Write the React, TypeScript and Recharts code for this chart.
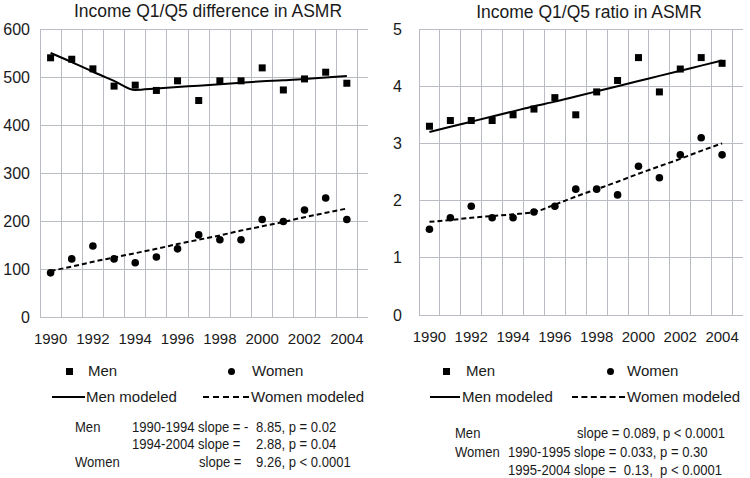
import React from "react";
import {
  ComposedChart,
  Line,
  Scatter,
  XAxis,
  YAxis,
  CartesianGrid,
  ReferenceLine,
} from "recharts";

const years = [1990, 1991, 1992, 1993, 1994, 1995, 1996, 1997, 1998, 1999, 2000, 2001, 2002, 2003, 2004];
const xTicks = [1990, 1992, 1994, 1996, 1998, 2000, 2002, 2004];

// left panel: difference in ASMR
const diffMen = [540, 537, 517, 481, 483, 472, 492, 451, 492, 492, 519, 473, 496, 510, 487];
const diffWomen = [92, 121, 148, 121, 113, 125, 142, 171, 161, 161, 203, 199, 223, 248, 203];
const diffMenModel = [550, 531, 511, 492, 473, 476, 479, 482, 485, 488, 491, 493, 496, 499, 502];
const diffWomenModel = [96, 105, 115, 124, 133, 142, 152, 161, 170, 180, 189, 198, 208, 217, 226];
const diffTicks = [0, 100, 200, 300, 400, 500, 600];

// right panel: ratio in ASMR
const ratioMen = [3.3, 3.4, 3.4, 3.4, 3.5, 3.6, 3.8, 3.5, 3.9, 4.1, 4.5, 3.9, 4.3, 4.5, 4.4];
const ratioWomen = [1.5, 1.7, 1.9, 1.7, 1.7, 1.8, 1.9, 2.2, 2.2, 2.1, 2.6, 2.4, 2.8, 3.1, 2.8];
const ratioMenModel = [3.2, 3.29, 3.38, 3.47, 3.56, 3.65, 3.73, 3.82, 3.91, 4.0, 4.09, 4.18, 4.27, 4.36, 4.45];
const ratioWomenModel = [1.63, 1.66, 1.7, 1.73, 1.76, 1.8, 1.93, 2.07, 2.2, 2.33, 2.47, 2.6, 2.73, 2.87, 3.0];
const ratioTicks = [0, 1, 2, 3, 4, 5];

const FONT = "'Liberation Sans', Arial, sans-serif";
const TXT = "#1a1a1a";
const GRID = "#b9bcc2";

// cell boundaries between the years, for the vertical grid
const bounds = [years[0] - 0.5, ...years.map((y) => y + 0.5)];

const Square = (props: any) => {
  const { cx, cy } = props;
  if (cx == null || cy == null) return null;
  return <rect x={cx - 3.5} y={cy - 3.5} width={7} height={7} fill="#000" />;
};

const Dot = (props: any) => {
  const { cx, cy } = props;
  if (cx == null || cy == null) return null;
  return <circle cx={cx} cy={cy} r={3.8} fill="#000" />;
};

type PanelProps = {
  men: number[];
  women: number[];
  menModel: number[];
  womenModel: number[];
  yTicks: number[];
  margin: { top: number; right: number; left: number; bottom: number };
  yWidth: number;
  yTickMargin: number;
  xTickMargin: number;
};

const Panel = ({ men, women, menModel, womenModel, yTicks, margin, yWidth, yTickMargin, xTickMargin }: PanelProps) => {
  const data = years.map((year, i) => ({
    year,
    men: men[i],
    women: women[i],
    menModel: menModel[i],
    womenModel: womenModel[i],
  }));

  return (
    <ComposedChart width={375} height={360} data={data} margin={margin}>
      <CartesianGrid stroke={GRID} strokeWidth={1} vertical={false} />
      {bounds.map((b) => (
        <ReferenceLine key={String(b)} x={b} stroke={GRID} strokeWidth={1} />
      ))}
      <XAxis
        dataKey="year"
        type="number"
        domain={[years[0] - 0.5, years[years.length - 1] + 0.5]}
        ticks={xTicks}
        height={30}
        tickLine={false}
        tickSize={0}
        tickMargin={xTickMargin}
        axisLine={{ stroke: GRID }}
        tick={{ fill: TXT, fontSize: 15, fontFamily: FONT }}
        allowDecimals={false}
      />
      <YAxis
        domain={[yTicks[0], yTicks[yTicks.length - 1]]}
        ticks={yTicks}
        width={yWidth}
        axisLine={false}
        tickLine={false}
        tickSize={0}
        tickMargin={yTickMargin}
        tick={{ fill: TXT, fontSize: 16, fontFamily: FONT }}
      />
      <Line type="monotone" dataKey="menModel" stroke="#000" strokeWidth={2} dot={false} isAnimationActive={false} />
      <Line
        type="monotone"
        dataKey="womenModel"
        stroke="#000"
        strokeWidth={2}
        strokeDasharray="5 3"
        dot={false}
        isAnimationActive={false}
      />
      <Scatter dataKey="men" shape={Square} isAnimationActive={false} />
      <Scatter dataKey="women" shape={Dot} isAnimationActive={false} />
    </ComposedChart>
  );
};

const abs = (left: number, top: number, size: number, extra: React.CSSProperties = {}): React.CSSProperties => ({
  position: "absolute",
  left,
  top: top - size * 0.6,
  fontSize: size,
  lineHeight: `${size * 1.2}px`,
  whiteSpace: "pre",
  color: TXT,
  fontFamily: FONT,
  ...extra,
});

// legend rows for one panel; x positions given relative to panel left
const LegendBlock = ({ ox, sq, menX, dot, womenX, lineA, lineB, menModX, dashA, dashB, womenModX }: any) => (
  <>
    <div style={{ position: "absolute", left: ox + sq - 3.5, top: 371 - 3.5, width: 7, height: 7, background: "#000" }} />
    <div style={abs(ox + menX, 371, 15)}>Men</div>
    <div
      style={{ position: "absolute", left: ox + dot - 3.5, top: 371 - 3.5, width: 7, height: 7, borderRadius: 4, background: "#000" }}
    />
    <div style={abs(ox + womenX, 371, 15)}>Women</div>
    <div style={{ position: "absolute", left: ox + lineA, top: 396, width: lineB - lineA, height: 2, background: "#000" }} />
    <div style={{ position: "absolute", left: ox + dashA, top: 396, width: dashB - dashA, height: 0, borderTop: "2px dashed #000" }} />
    <div style={abs(ox + menModX, 397, 15)}>Men modeled</div>
    <div style={abs(ox + womenModX, 397, 15)}>Women modeled</div>
  </>
);

// the notes use a narrow face in the reference; squeeze the text horizontally
const note = (left: number, top: number) =>
  abs(left, top, 15, { transform: "scaleX(0.87)", transformOrigin: "0 50%" });

export default function App() {
  return (
    <div style={{ position: "absolute", left: 0, top: 0, width: 750, height: 478, background: "#fff", fontFamily: FONT }}>
      <style>
        {".recharts-cartesian-grid line, .recharts-reference-line line, .recharts-cartesian-axis-line { shape-rendering: crispEdges; }"}
      </style>
      <div style={{ position: "absolute", left: 0, top: 0 }}>
        <Panel
          men={diffMen}
          women={diffWomen}
          menModel={diffMenModel}
          womenModel={diffWomenModel}
          yTicks={diffTicks}
          margin={{ top: 29, right: 7, left: 8, bottom: 13 }}
          yWidth={32}
          yTickMargin={10}
          xTickMargin={16}
        />
      </div>
      <div style={{ position: "absolute", left: 375, top: 0 }}>
        <Panel
          men={ratioMen}
          women={ratioWomen}
          menModel={ratioMenModel}
          womenModel={ratioWomenModel}
          yTicks={ratioTicks}
          margin={{ top: 29, right: 7, left: 8, bottom: 15 }}
          yWidth={36}
          yTickMargin={17}
          xTickMargin={16}
        />
      </div>

      <div style={abs(0, 11, 17.5, { width: 416, textAlign: "center" })}>Income Q1/Q5 difference in ASMR</div>
      <div style={abs(375, 12, 17.5, { width: 428, textAlign: "center" })}>Income Q1/Q5 ratio in ASMR</div>

      <LegendBlock ox={0} sq={69} menX={88} dot={231} womenX={252} lineA={52} lineB={85} menModX={86} dashA={203} dashB={249} womenModX={251} />
      <LegendBlock ox={375} sq={71} menX={91} dot={235} womenX={252} lineA={55} lineB={85} menModX={87} dashA={197} dashB={250} womenModX={252} />

      {/* left notes */}
      <div style={note(75, 427)}>Men</div>
      <div style={note(132, 427)}>1990-1994 slope = -</div>
      <div style={note(256, 427)}>8.85, p = 0.02</div>
      <div style={note(132, 444)}>1994-2004 slope =</div>
      <div style={note(256, 444)}>2.88, p = 0.04</div>
      <div style={note(75, 462)}>Women</div>
      <div style={note(199, 462)}>slope =</div>
      <div style={note(256, 462)}>9.26, p &lt; 0.0001</div>

      {/* right notes */}
      <div style={note(455, 433)}>Men</div>
      <div style={note(577, 433)}>slope = 0.089, p &lt; 0.0001</div>
      <div style={note(455, 452)}>Women</div>
      <div style={note(508, 452)}>1990-1995 slope = 0.033, p = 0.30</div>
      <div style={note(508, 470)}>{"1995-2004 slope =  0.13,  p < 0.0001"}</div>
    </div>
  );
}
